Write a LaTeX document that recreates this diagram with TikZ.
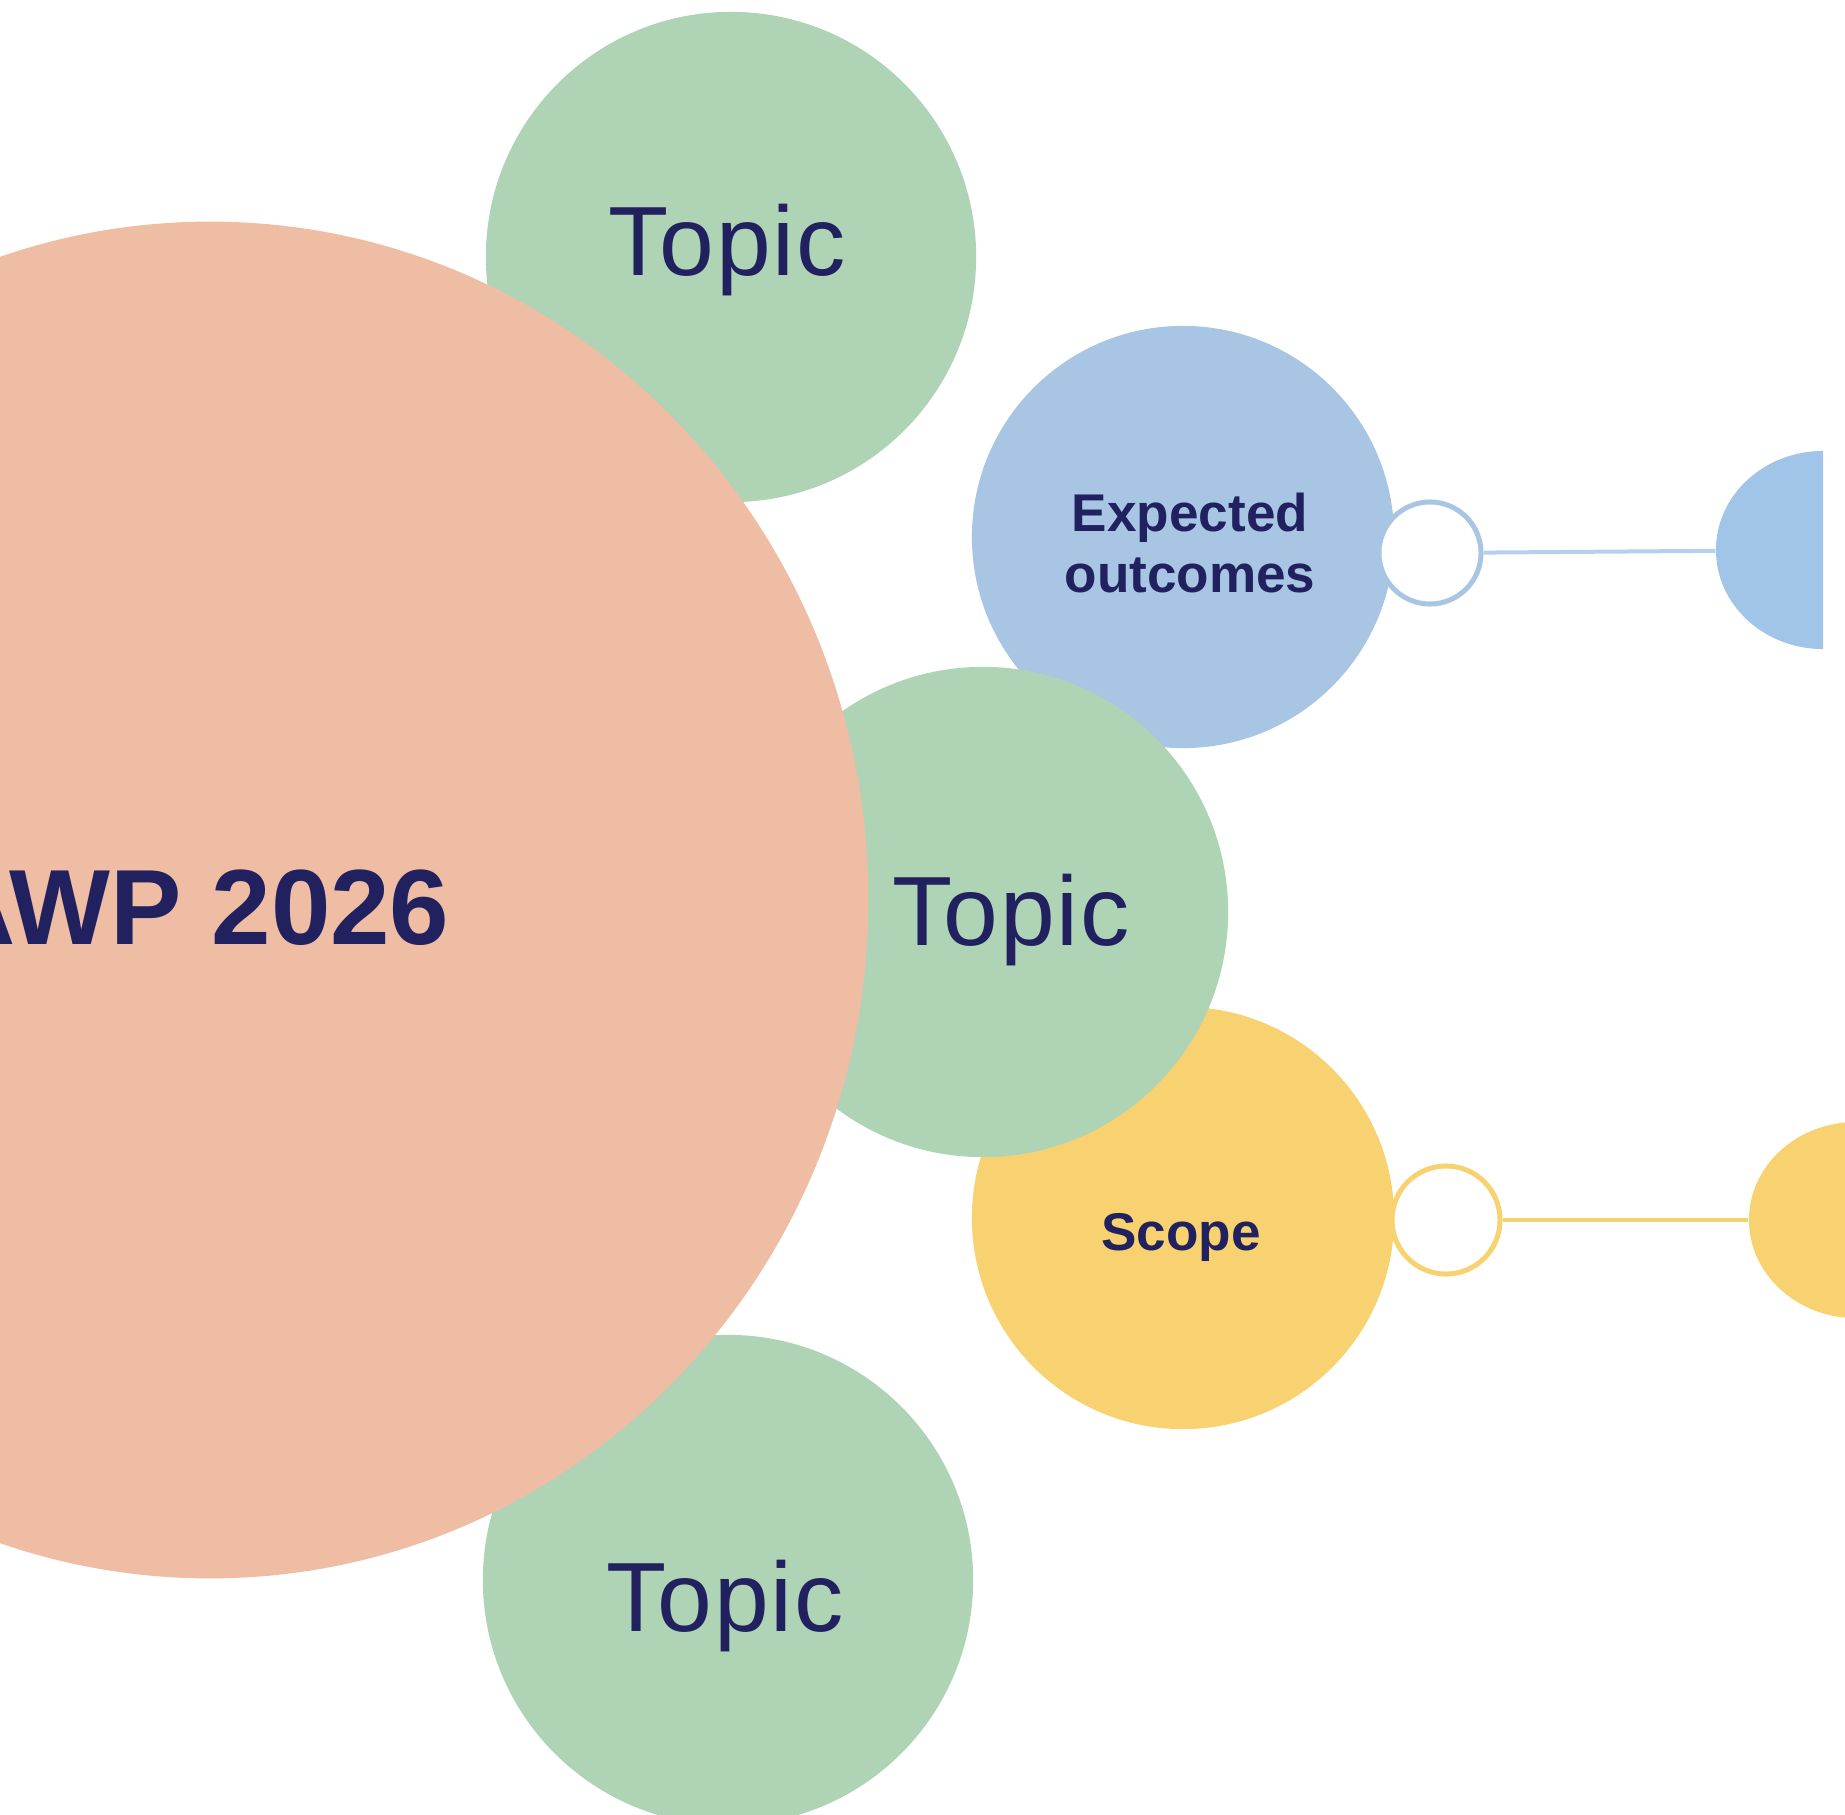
\documentclass[tikz,border=0pt]{standalone}
\usepackage{fontspec}
\setmainfont{Liberation Sans}
\usetikzlibrary{shapes.geometric}
\definecolor{salmon}{HTML}{EFBDA3}
\definecolor{sage}{HTML}{AFD3B5}
\definecolor{skyblue}{HTML}{A8C5E4}
\definecolor{skyend}{HTML}{A0C5E8}
\definecolor{skyline}{HTML}{B3D1EE}
\definecolor{sunny}{HTML}{F8D270}
\definecolor{navy}{HTML}{22215F}
\begin{document}
\begin{tikzpicture}[x=0.01cm, y=-0.01cm,
  bubble/.style={circle, inner sep=0pt, draw=none},
  ring/.style={circle, inner sep=0pt, fill=white, line width=0.05cm},
  txt/.style={inner sep=0pt, text=navy},
  topictxt/.style={txt, anchor=base, font=\fontsize{28}{33}\selectfont\addfontfeature{LetterSpace=2}}]
\useasboundingbox (0,0) rectangle (1845,1815);
\clip (0,0) rectangle (1845,1815);
\node[bubble, fill=skyblue, minimum size=4.22cm] (outcomes) at (1183,537) {};
\node[bubble, fill=sunny, minimum size=4.22cm] (scope) at (1183,1218) {};
\node[bubble, fill=sage, minimum size=4.9cm] (topicmid) at (983,912) {};
\node[bubble, fill=sage, minimum size=4.9cm] (topictop) at (731,257) {};
\node[bubble, fill=sage, minimum size=4.9cm] (topicbot) at (728,1580) {};
\node[ellipse, inner sep=0pt, fill=salmon, minimum width=13.16cm, minimum height=13.56cm] (awp) at (210,900) {};
\node[txt, anchor=base, font=\fontsize{30.4}{36}\selectfont\bfseries] (awptext) at (194,944) {AWP 2026};
\node[topictxt] (topictoptext) at (727,275) {Topic};
\node[topictxt] (topicmidtext) at (1011,945) {Topic};
\node[topictxt] (topicbottext) at (725,1631) {Topic};
\node[txt, align=center, font=\fontsize{15.1}{17.4}\selectfont\bfseries] (outcomestext) at (1190,543) {Expected\\outcomes};
\node[txt, anchor=base, font=\fontsize{15.1}{17.4}\selectfont\bfseries] (scopetext) at (1181,1250) {Scope};
\node[ring, draw=skyblue, minimum size=1.02cm] (outcomesring) at (1430,553) {};
\node[ring, draw=sunny, minimum size=1.08cm] (scopering) at (1446,1220) {};
\begin{scope}
\clip (1700,400) rectangle (1823,700);
\node[ellipse, inner sep=0pt, fill=skyend, minimum width=2.14cm, minimum height=1.98cm] (outcomesend) at (1823,550) {};
\end{scope}
\node[ellipse, inner sep=0pt, fill=sunny, minimum width=2.14cm, minimum height=1.96cm] (scopeend) at (1856,1220) {};
\draw[skyline, line width=0.04cm] (outcomesring) -- (outcomesend);
\draw[sunny, line width=0.04cm] (scopering) -- (scopeend);
\end{tikzpicture}
\end{document}
